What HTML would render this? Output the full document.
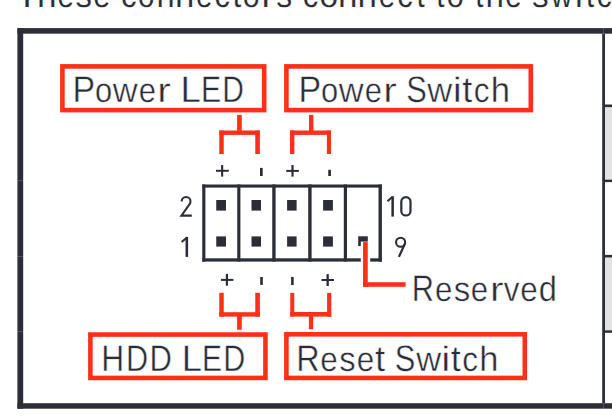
<!DOCTYPE html>
<html><head><meta charset="utf-8"><title>Front Panel Connector</title>
<style>
html,body{margin:0;padding:0;background:#fff;width:612px;height:416px;overflow:hidden}
svg{display:block}
text{font-family:"Liberation Sans",sans-serif;font-kerning:none;fill:#2a2d37;text-rendering:geometricPrecision;stroke:#fff;stroke-width:0.45px}
.top text{stroke-width:0.16px}
</style></head><body>
<svg width="612" height="416" viewBox="0 0 612 416">
<rect x="0" y="0" width="612" height="416" fill="#fff"/>
<!-- top text -->
<g class="top" font-size="37.0"><!-- top line -->
<text transform="matrix(1.0000 0 0 1.0 15.71 7)">T</text>
<text transform="matrix(0.9520 0 0 0.95 36.98 7)">h</text>
<text transform="matrix(0.8000 0 0 0.93 57.55 7)">e</text>
<text transform="matrix(0.8901 0 0 0.93 75.60 7)">s</text>
<text transform="matrix(0.8271 0 0 0.93 93.32 7)">e</text>
<text transform="matrix(0.8437 0 0 0.93 120.99 7)">c</text>
<text transform="matrix(0.8000 0 0 0.93 137.92 7)">o</text>
<text transform="matrix(0.8818 0 0 0.93 156.55 7)">n</text>
<text transform="matrix(0.9391 0 0 0.93 175.11 7)">n</text>
<text transform="matrix(0.8000 0 0 0.93 196.05 7)">e</text>
<text transform="matrix(0.8375 0 0 0.93 214.60 7)">c</text>
<text transform="matrix(0.8530 0 0 0.98 232.54 7)">t</text>
<text transform="matrix(0.8220 0 0 0.93 242.84 7)">o</text>
<text transform="matrix(1.0000 0 0 0.93 261.54 7)">r</text>
<text transform="matrix(0.8591 0 0 0.93 276.34 7)">s</text>
<text transform="matrix(0.8437 0 0 0.93 302.79 7)">c</text>
<text transform="matrix(0.9078 0 0 0.93 319.41 7)">o</text>
<text transform="matrix(0.9454 0 0 0.93 338.00 7)">n</text>
<text transform="matrix(0.9454 0 0 0.93 357.60 7)">n</text>
<text transform="matrix(0.8000 0 0 0.93 378.75 7)">e</text>
<text transform="matrix(0.8437 0 0 0.93 397.19 7)">c</text>
<text transform="matrix(0.8000 0 0 0.98 416.42 7)">t</text>
<text transform="matrix(0.8000 0 0 0.98 436.32 7)">t</text>
<text transform="matrix(0.8277 0 0 0.93 446.73 7)">o</text>
<text transform="matrix(0.8000 0 0 0.98 475.27 7)">t</text>
<text transform="matrix(0.8943 0 0 0.95 485.43 7)">h</text>
<text transform="matrix(0.8000 0 0 0.93 505.15 7)">e</text>
<text transform="matrix(0.9025 0 0 0.93 531.89 7)">s</text>
<text transform="matrix(0.8000 0 0 0.93 550.90 7)">w</text>
<text transform="matrix(0.9410 0 0 0.95 575.09 7)">i</text>
<text transform="matrix(0.8000 0 0 0.98 586.02 7)">t</text>
<text transform="matrix(0.8124 0 0 0.93 596.64 7)">c</text>
<text transform="matrix(1.0000 0 0 0.95 612.43 7)">h</text>
</g>


<!-- frame -->
<g fill="#2b2e38">
<rect x="17.4" y="28.1" width="594.6" height="5.6"/>
<rect x="17.4" y="403.2" width="594.6" height="5.5"/>
<rect x="17.4" y="28.1" width="5.8" height="380.6"/>
<rect x="602.2" y="33.7" width="2.8" height="369.5"/>
<rect x="605" y="104.5" width="7" height="2.9"/>
<rect x="605" y="179.4" width="7" height="2.7"/>
<rect x="605" y="254.9" width="7" height="2.8"/>
<rect x="605" y="330.2" width="7" height="2.6"/>
</g>
<g fill="#fff" fill-opacity="0.22">
<rect x="603.2" y="28.1" width="0.8" height="5.6"/>
<rect x="603.2" y="403.2" width="0.8" height="5.5"/>
<rect x="17.4" y="180.3" width="5.8" height="0.8"/>
<rect x="17.4" y="256.1" width="5.8" height="0.8"/>
<rect x="17.4" y="331.1" width="5.8" height="0.8"/>
</g>
<g fill="#e3e3e3">
<rect x="605" y="107.4" width="7" height="72"/>
<rect x="605" y="257.7" width="7" height="72.5"/>
</g>

<!-- red label boxes -->
<g fill="none" stroke="#ff2f1a" stroke-width="4.6">
<rect x="62.4" y="66.4" width="201.8" height="43.7"/>
<rect x="286.4" y="66.4" width="244.4" height="43.7"/>
<rect x="90.4" y="334.55" width="175.05" height="43.4"/>
<rect x="286.4" y="334.3" width="238.4" height="43.65"/>
</g>

<!-- red brackets -->
<g fill="#ff2f1a">
<!-- Power LED bracket -->
<rect x="237.1" y="114.9" width="4.65" height="16"/>
<rect x="219.25" y="130.5" width="40.65" height="4.4"/>
<rect x="219.25" y="130.5" width="4.5" height="23.5"/>
<rect x="255.25" y="130.5" width="4.65" height="23.5"/>
<!-- Power Switch bracket -->
<rect x="309" y="114.9" width="4.4" height="16"/>
<rect x="290" y="130.5" width="41" height="4.4"/>
<rect x="290" y="130.5" width="4.4" height="23.5"/>
<rect x="326.9" y="130.5" width="4.1" height="23.5"/>
<!-- HDD bracket -->
<rect x="219.25" y="292.8" width="4.5" height="23.8"/>
<rect x="255.25" y="292.8" width="4.65" height="23.8"/>
<rect x="219.25" y="312.2" width="40.65" height="4.4"/>
<rect x="237.1" y="316" width="4.65" height="13.75"/>
<!-- Reset bracket -->
<rect x="290.25" y="292.9" width="4" height="23.7"/>
<rect x="327.1" y="292.9" width="4.15" height="23.7"/>
<rect x="290.25" y="312" width="41" height="4.6"/>
<rect x="308.9" y="316" width="4.3" height="13.2"/>
</g>

<g fill="#ff2f1a" fill-opacity="0.13">
<rect x="237.1" y="339" width="4.7" height="0.9"/>
<rect x="308.9" y="339" width="4.4" height="0.9"/>
</g>
<!-- connector -->
<g fill="#2b2e38">
<rect x="202.25" y="184.5" width="179.65" height="3.1"/>
<rect x="202.25" y="258.3" width="179.65" height="3.3"/>
<rect x="202.25" y="184.5" width="3.15" height="77.1"/>
<rect x="237.25" y="184.5" width="3.15" height="77.1"/>
<rect x="272.25" y="184.5" width="3.35" height="77.1"/>
<rect x="308.2" y="184.5" width="3.4" height="77.1"/>
<rect x="343.8" y="184.5" width="3.2" height="77.1"/>
<rect x="378.5" y="184.5" width="3.4" height="77.1"/>
<!-- pins -->
<rect x="216.25" y="200" width="9.75" height="10.6"/>
<rect x="251.5" y="200" width="9.5" height="10.6"/>
<rect x="287.1" y="200" width="9.5" height="10.6"/>
<rect x="323.1" y="200" width="9.8" height="10.6"/>
<rect x="216.25" y="236.4" width="9.75" height="10.2"/>
<rect x="251.5" y="236.4" width="9.5" height="10.2"/>
<rect x="287.1" y="236.4" width="9.5" height="10.2"/>
<rect x="323.1" y="236.4" width="9.8" height="10.2"/>
<rect x="358.2" y="236.3" width="9.6" height="9.8"/>
</g>
<!-- reserved line with white halo -->
<rect x="360.8" y="241.6" width="9.4" height="22" fill="#fff"/>
<g fill="#ff2f1a">
<rect x="363.05" y="242.1" width="4.7" height="44.7"/>
<rect x="363.05" y="282.2" width="42.55" height="4.6"/>
</g>

<!-- plus / minus marks -->
<g fill="#2a2d37">
<rect x="216" y="169.8" width="12.75" height="2"/><rect x="221.1" y="165" width="2.1" height="11.6"/>
<rect x="260" y="167.9" width="2.7" height="8.1"/>
<rect x="286.25" y="169.9" width="12.6" height="2"/><rect x="291.4" y="165" width="2.2" height="11.6"/>
<rect x="328.25" y="169.8" width="2.7" height="6.2"/>
<rect x="220.9" y="278.9" width="12.5" height="2"/><rect x="225.8" y="273.9" width="2.2" height="11.8"/>
<rect x="260.2" y="277" width="2.6" height="7.9"/>
<rect x="291.1" y="277" width="2.6" height="8"/>
<rect x="321.5" y="279" width="12.5" height="2"/><rect x="326.5" y="274.1" width="2.3" height="11.9"/>
</g>

<!-- labels -->
<g font-size="37.0"><!-- Power LED -->
<text transform="matrix(0.9166 0 0 1.0 72.59 102.0)">P</text>
<text transform="matrix(0.8328 0 0 0.93 94.98 102.0)">o</text>
<text transform="matrix(0.9287 0 0 0.93 112.73 102.0)">w</text>
<text transform="matrix(0.8380 0 0 0.93 138.66 102.0)">e</text>
<text transform="matrix(1.1000 0 0 0.93 157.26 102.0)">r</text>
<text transform="matrix(0.9899 0 0 1.0 180.57 102.0)">L</text>
<text transform="matrix(0.8153 0 0 1.0 201.10 102.0)">E</text>
<text transform="matrix(0.8100 0 0 1.0 222.22 102.0)">D</text>
</g>
<g font-size="37.0"><!-- Power Switch -->
<text transform="matrix(0.9166 0 0 1.0 298.59 102.0)">P</text>
<text transform="matrix(0.8328 0 0 0.93 320.98 102.0)">o</text>
<text transform="matrix(0.9287 0 0 0.93 338.73 102.0)">w</text>
<text transform="matrix(0.8380 0 0 0.93 364.66 102.0)">e</text>
<text transform="matrix(1.1000 0 0 0.93 383.26 102.0)">r</text>
<text transform="matrix(0.8333 0 0 1.0 406.27 102.0)">S</text>
<text transform="matrix(0.9324 0 0 0.93 427.33 102.0)">w</text>
<text transform="matrix(1.1000 0 0 0.95 452.74 102.0)">i</text>
<text transform="matrix(0.9790 0 0 0.98 462.23 102.0)">t</text>
<text transform="matrix(0.8494 0 0 0.93 473.74 102.0)">c</text>
<text transform="matrix(0.9385 0 0 0.95 490.67 102.0)">h</text>
</g>
<g font-size="37.0"><!-- HDD LED -->
<text transform="matrix(0.8588 0 0 1.0 101.37 371.0)">H</text>
<text transform="matrix(0.8282 0 0 1.0 125.96 371.0)">D</text>
<text transform="matrix(0.8373 0 0 1.0 149.53 371.0)">D</text>
<text transform="matrix(0.9838 0 0 1.0 181.69 371.0)">L</text>
<text transform="matrix(0.8103 0 0 1.0 202.02 371.0)">E</text>
<text transform="matrix(0.8237 0 0 1.0 223.18 371.0)">D</text>
</g>
<g font-size="37.0"><!-- Reset Switch -->
<text transform="matrix(0.8762 0 0 1.0 296.22 371.0)">R</text>
<text transform="matrix(0.8496 0 0 0.93 320.34 371.0)">e</text>
<text transform="matrix(0.8833 0 0 0.93 339.27 371.0)">s</text>
<text transform="matrix(0.8496 0 0 0.93 356.64 371.0)">e</text>
<text transform="matrix(0.9896 0 0 0.98 375.12 371.0)">t</text>
<text transform="matrix(0.8333 0 0 1.0 394.87 371.0)">S</text>
<text transform="matrix(0.9324 0 0 0.93 416.13 371.0)">w</text>
<text transform="matrix(1.1000 0 0 0.95 441.34 371.0)">i</text>
<text transform="matrix(0.9790 0 0 0.98 450.73 371.0)">t</text>
<text transform="matrix(0.8494 0 0 0.93 462.14 371.0)">c</text>
<text transform="matrix(0.9321 0 0 0.95 479.18 371.0)">h</text>
</g>
<g font-size="37.0"><!-- Reserved -->
<text transform="matrix(0.8307 0 0 1.0 411.75 301.0)">R</text>
<text transform="matrix(0.8438 0 0 0.93 434.95 301.0)">e</text>
<text transform="matrix(0.8895 0 0 0.93 453.66 301.0)">s</text>
<text transform="matrix(0.8438 0 0 0.93 470.75 301.0)">e</text>
<text transform="matrix(1.1000 0 0 0.93 490.01 301.0)">r</text>
<text transform="matrix(0.8467 0 0 0.93 503.87 301.0)">v</text>
<text transform="matrix(0.8496 0 0 0.93 520.34 301.0)">e</text>
<text transform="matrix(0.8805 0 0 0.96 538.81 301.0)">d</text>
</g>

<!-- pin numbers -->
<g fill="none" stroke="#2a2d37" stroke-width="2.05">
<path d="M181.7 201.4 A4.4 4.4 0 0 1 190.5 201.4 C190.5 202.9 189.9 203.9 188.9 205.2 L181.4 215.6 L191.8 215.6"/>
<path d="M187 237.6 L181.6 242"/>
<path d="M392.4 196.9 L387.4 201.3"/>
<rect x="401.3" y="197.1" width="9.2" height="18.4" rx="4.6" ry="4.6" stroke-width="2.2"/>
<circle cx="400.6" cy="242.25" r="4.55"/>
<path d="M405.1 243.2 L398.9 256.9" stroke-width="2.2"/>
</g>
<g fill="#2a2d37">
<rect x="185.55" y="236.9" width="2.55" height="20"/>
<rect x="391.4" y="196.2" width="2.5" height="20.4"/>
</g>
</svg>
</body></html>
